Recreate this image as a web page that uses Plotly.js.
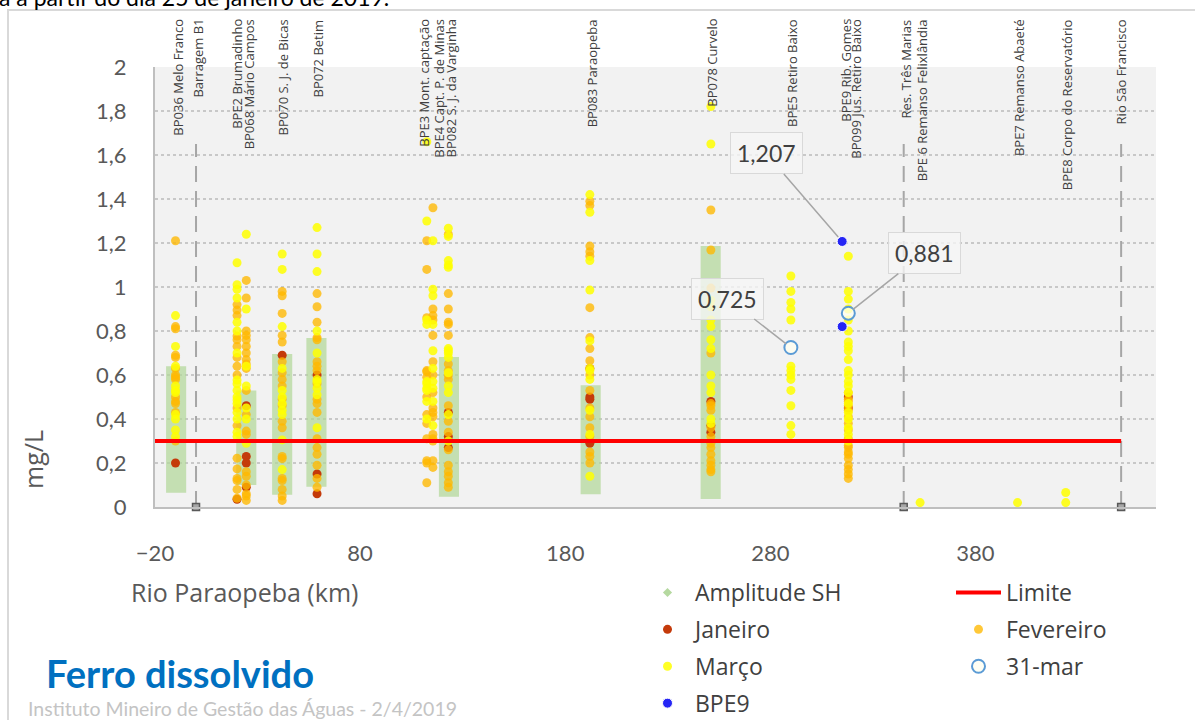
<!DOCTYPE html>
<html><head><meta charset="utf-8">
<script src="https://cdn.plot.ly/plotly-3.0.1.min.js"></script>
<style>html,body{margin:0;padding:0;background:#fff}#chart{width:1195px;height:720px}</style>
</head><body><div id="chart"></div>
<script>
// ---- data ----
const stations = ['BP036','BPE2','BP068','BP070','BP072','BPE3','BPE4','BP082','BP083','BP078','BPE5','BPE9','BP099','BPE6','BPE7','BPE8'];
const stationKm = [-10, 20, 24.5, 42, 59, 112.5, 115.5, 123, 192, 251, 290, 315, 318, 353, 400.5, 424];

const janeiroMg = [
  [0.20],[0.035],[0.46,0.23,0.20,0.09],[0.69],[0.60,0.15,0.06],[],[],[0.43,0.32,0.27],
  [0.63,0.50,0.49,0.29],[0.48,0.37,0.34],[],[],[0.50,0.45],[],[],[]
];
const fevereiroMg = [
  [1.21,0.82,0.81,0.69,0.68,0.63,0.60,0.59,0.58,0.50,0.48,0.47,0.43,0.30],
  [0.92,0.895,0.87,0.777,0.76,0.73,0.68,0.64,0.60,0.45,0.37,0.222,0.173,0.13,0.12,0.08,0.04],
  [1.03,0.95,0.80,0.78,0.76,0.73,0.70,0.67,0.65,0.63,0.53,0.42,0.345,0.33,0.16,0.14,0.10,0.06,0.05,0.03],
  [0.98,0.96,0.88,0.78,0.75,0.66,0.61,0.58,0.55,0.49,0.46,0.39,0.36,0.23,0.22,0.13,0.12,0.08,0.05,0.03],
  [0.97,0.91,0.84,0.77,0.76,0.66,0.64,0.62,0.56,0.49,0.47,0.43,0.31,0.27,0.24,0.19,0.13,0.09],
  [1.21,1.08,0.86,0.62,0.615,0.59,0.50,0.42,0.38,0.31,0.21,0.20,0.11],
  [1.36,0.90,0.87,0.85,0.78,0.66,0.60,0.52,0.45,0.43,0.41,0.33,0.31,0.30,0.21,0.18],
  [1.24,0.97,0.90,0.84,0.83,0.78,0.65,0.62,0.60,0.58,0.46,0.39,0.34,0.26,0.19,0.16,0.14,0.11,0.09],
  [1.39,1.37,1.186,1.16,1.14,0.906,0.77,0.72,0.665,0.60,0.53,0.45,0.41,0.36,0.32,0.25,0.23,0.20],
  [1.35,1.168,0.995,0.70,0.47,0.46,0.44,0.36,0.32,0.29,0.27,0.24,0.21,0.19,0.17,0.16],
  [],[],
  [0.52,0.49,0.48,0.46,0.44,0.41,0.38,0.35,0.31,0.28,0.27,0.25,0.24,0.22,0.19,0.17,0.15,0.13],
  [],[],[]
];
const marcoMg = [
  [0.87,0.73,0.64,0.55,0.53,0.52,0.42,0.40,0.35,0.32],
  [1.11,1.01,0.99,0.95,0.84,0.80,0.70,0.577,0.56,0.53,0.50,0.486,0.47,0.43,0.40,0.34,0.32],
  [1.24,0.90,0.64,0.55,0.45,0.40,0.29],
  [1.15,1.08,0.82,0.63,0.53,0.50,0.47,0.44,0.42,0.305,0.17],
  [1.27,1.15,1.07,0.80,0.70,0.58,0.57,0.54,0.51,0.36],
  [1.66,1.30,0.85,0.83,0.57,0.56,0.54,0.53,0.48,0.40],
  [1.21,0.99,0.96,0.83,0.71,0.63,0.57,0.54,0.48,0.37],
  [1.267,1.23,1.12,1.10,1.09,0.72,0.71,0.70,0.68,0.61,0.55,0.52,0.42,0.30],
  [1.42,1.34,1.12,0.986,0.755,0.63,0.62,0.58,0.44,0.33,0.14],
  [1.82,1.65,0.94,0.91,0.85,0.82,0.76,0.72,0.60,0.55,0.52,0.40,0.38],
  [1.05,0.98,0.93,0.90,0.85,0.64,0.62,0.60,0.58,0.53,0.46,0.37,0.33],
  [],
  [1.14,0.98,0.945,0.90,0.85,0.80,0.75,0.73,0.71,0.67,0.62,0.60,0.57,0.55,0.52,0.47,0.43,0.40,0.36,0.33,0.30],
  [0.02],[0.02],[0.02,0.066]
];
const bpe9Km = [315, 315];
const bpe9Mg = [1.207, 0.82];
const mar31Km = [290, 318];
const mar31Mg = [0.725, 0.881];

const amplitudeKm = [-9.7, 24.5, 42, 58.7, 123.3, 192.4, 250.9];
const amplitudeMin = [0.065, 0.10, 0.056, 0.092, 0.047, 0.058, 0.036];
const amplitudeMax = [0.64, 0.53, 0.695, 0.768, 0.682, 0.553, 1.186];

const limiteKm = [-20, 451];
const limiteMg = [0.3, 0.3];

const dividerKm = [0, 345, 451];
const dividerTop = 1.65;

const labelText = ['BP036 Melo Franco','Barragem B1','BPE2 Brumadinho','BP068 Mário Campos','BP070 S. J. de Bicas','BP072 Betim',
  'BPE3 Mont. captação','BPE4 Capt. P. de Minas','BP082 S. J. da Varginha','BP083 Paraopeba','BP078 Curvelo','BPE5 Retiro Baixo',
  'BPE9 Rib. Gomes','BP099 Jus. Retiro Baixo','Res. Três Marias','BPE 6 Remanso Felixlândia','BPE7 Remanso Abaeté',
  'BPE8 Corpo do Reservatório','Rio São Francisco'];
const labelKm = [-9.2, 0.5, 19.9, 26.0, 42.6, 59.7, 111.0, 118.1, 124.5, 193.2, 251.4, 290.5, 316.5, 321.6, 346.1, 354.1, 401.0, 424.5, 450.9];

const xTicks = [-20, 80, 180, 280, 380];

// ---- build ----
function flat(lists){
  const x=[], y=[];
  lists.forEach((vals,i)=>vals.forEach(v=>{x.push(stationKm[i]); y.push(v);}));
  return {x,y};
}
const jan = flat(janeiroMg), fev = flat(fevereiroMg), mar = flat(marcoMg);

const divX=[], divY=[];
dividerKm.forEach(k=>{divX.push(k,k,null); divY.push(0,dividerTop,null);});

const LAB = 'Open Sans, sans-serif';
const CAL = 'Lato, sans-serif';

const traces = [
  {type:'bar', x:amplitudeKm, y:amplitudeMax.map((m,i)=>m-amplitudeMin[i]), base:amplitudeMin, width:9.8,
   marker:{color:'rgba(177,215,153,0.72)', line:{width:0}}, showlegend:false, hoverinfo:'skip'},
  {type:'scatter', mode:'lines', x:divX, y:divY, line:{color:'#A6A6A6', width:2, dash:'16px,9px'}, showlegend:false, hoverinfo:'skip'},
  {type:'scatter', mode:'markers', x:dividerKm, y:dividerKm.map(()=>0), cliponaxis:false,
   marker:{symbol:'square', size:7, color:'#A6A6A6', line:{color:'#595959', width:1.5}}, showlegend:false, hoverinfo:'skip'},
  {type:'scatter', mode:'markers', name:'Amplitude SH', x:[null], y:[null], legend:'legend', legendrank:1, legendgroup:'a',
   marker:{symbol:'diamond', size:7, color:'#B5D9A0'}},
  {type:'scatter', mode:'markers', name:'Janeiro', x:jan.x, y:jan.y, legend:'legend', legendrank:2, legendgroup:'b',
   marker:{size:9, color:'#C43A0A'}},
  {type:'scatter', mode:'markers', name:'Fevereiro', x:fev.x, y:fev.y, legend:'legend2', legendrank:2, legendgroup:'c',
   marker:{size:9, color:'rgba(255,184,0,0.78)'}},
  {type:'scatter', mode:'markers', name:'Março', x:mar.x, y:mar.y, legend:'legend', legendrank:3, legendgroup:'d',
   marker:{size:9, color:'rgba(255,255,0,0.85)'}},
  {type:'scatter', mode:'markers', name:'BPE9', x:bpe9Km, y:bpe9Mg, legend:'legend', legendrank:4, legendgroup:'e',
   marker:{size:10, color:'#2525F5', line:{color:'#ffffff', width:1}}},
  {type:'scatter', mode:'markers', name:'31-mar', x:mar31Km, y:mar31Mg, legend:'legend2', legendrank:3, legendgroup:'f',
   marker:{size:13, color:'rgba(255,255,240,0.75)', line:{color:'#5B9BD5', width:2}}},
  {type:'scatter', mode:'lines', name:'Limite', x:limiteKm, y:limiteMg, legend:'legend2', legendrank:1, legendgroup:'g',
   line:{color:'#FF0000', width:4}}
];

const px = p => (p-155)/1001, py = p => (507-p)/440;

const annotations = labelText.map((t,i)=>({
  text:t, x:labelKm[i], xref:'x', y:py(17), yref:'paper', yanchor:'top', xanchor:'center',
  textangle:-90, showarrow:false, font:{family:LAB, size:13, color:'#404040'}
}));

function callout(t, x, y, ax, ay){
  return {text:t, x:x, y:y, xref:'x', yref:'y', ax:ax, ay:ay, showarrow:true, arrowhead:0, arrowwidth:1.5,
    arrowcolor:'#A6A6A6', standoff:6, bordercolor:'#D9D9D9', borderwidth:1, borderpad:6,
    bgcolor:'rgba(245,245,245,0.8)', font:{family:CAL, size:23, color:'#404040'}};
}
annotations.push(callout('1,207', bpe9Km[0], bpe9Mg[0], -76, -88));
annotations.push(callout('0,725', mar31Km[0], mar31Mg[0], -63, -49));
annotations.push(callout('0,881', mar31Km[1], mar31Mg[1], 76, -60));

annotations.push({text:'Rio Paraopeba (km)', xref:'paper', yref:'paper', x:px(244), xanchor:'center', y:py(592), yanchor:'middle', showarrow:false,
  font:{family:LAB, size:25, color:'#595959'}});
annotations.push({text:'mg/L', xref:'paper', yref:'paper', x:px(33), xanchor:'center', y:py(460), yanchor:'middle', textangle:-90, showarrow:false,
  font:{family:LAB, size:25, color:'#595959'}});
annotations.push({text:'<b>Ferro dissolvido</b>', xref:'paper', yref:'paper', x:px(44), xanchor:'left', y:py(673), yanchor:'middle', showarrow:false,
  font:{family:CAL, size:38, color:'#0070C0'}});
annotations.push({text:'Instituto Mineiro de Gestão das Águas - 2/4/2019', xref:'paper', yref:'paper', x:px(26), xanchor:'left', y:py(708), yanchor:'middle', showarrow:false,
  font:{family:CAL, size:19.5, color:'#C4C4C4'}});
annotations.push({text:'a a partir do dia 25 de janeiro de 2019.', xref:'paper', yref:'paper', x:px(-3), xanchor:'left', y:py(-3), yanchor:'middle', showarrow:false,
  font:{family:CAL, size:23, color:'#000000'}});

const legendBase = {xanchor:'left', yanchor:'top', bgcolor:'rgba(0,0,0,0)', tracegroupgap:4,
  traceorder:'grouped', font:{family:LAB, size:23, color:'#404040'}, itemwidth:45};

const layout = {
  width:1195, height:720,
  margin:{l:155, r:39, t:67, b:213, autoexpand:false},
  paper_bgcolor:'#ffffff', plot_bgcolor:'#F2F2F2',
  separators:',.',
  barmode:'overlay',
  xaxis:{range:[-20,468], tickvals:xTicks, showgrid:false, zeroline:false, showline:true, linecolor:'#BFBFBF', linewidth:2,
    ticks:'', ticklabelstandoff:26, tickfont:{family:CAL, size:22, color:'#595959'}, automargin:false},
  yaxis:{range:[0,2], dtick:0.2, tick0:0, showgrid:true, gridcolor:'#C8C8C8', griddash:'dot', gridwidth:1.5,
    zeroline:false, showline:true, linecolor:'#BFBFBF', linewidth:2, ticks:'', ticklabelstandoff:22,
    tickfont:{family:CAL, size:22, color:'#595959'}, automargin:false},
  legend:Object.assign({x:px(640), y:py(571)}, legendBase),
  legend2:Object.assign({x:px(951), y:py(571)}, legendBase),
  annotations:annotations,
  shapes:[{type:'rect', xref:'paper', yref:'paper', x0:px(8), x1:px(1205), y0:py(730), y1:py(10),
    line:{color:'#D9D9D9', width:2}, fillcolor:'rgba(0,0,0,0)', layer:'below'}]
};

Plotly.newPlot('chart', traces, layout, {displayModeBar:false, staticPlot:true});
</script></body></html>
